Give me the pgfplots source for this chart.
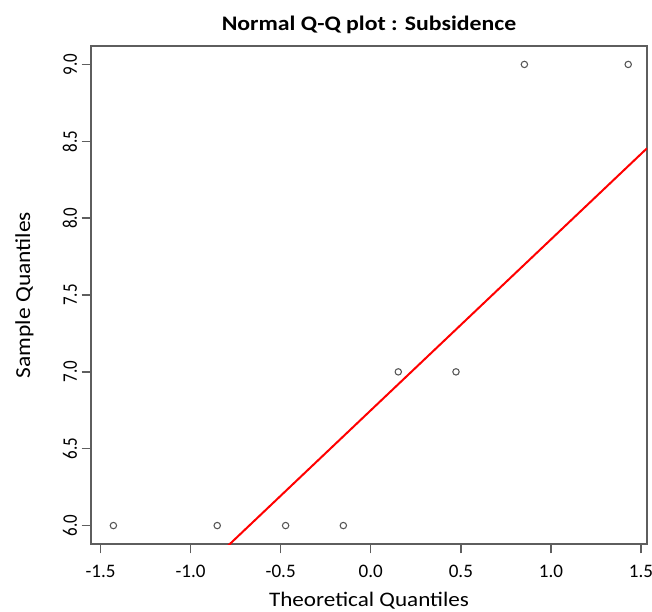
\documentclass[border=0pt]{standalone}
\usepackage{fontspec}
\setmainfont{Carlito}
% the reference text is set a little wider than plain Calibri
\newfontfamily\hfont{Carlito}[FakeStretch=1.12]
\newfontfamily\titlefont{Carlito}[FakeStretch=1.15]
\newfontfamily\vfont{Carlito}[FakeStretch=0.82]
\newfontfamily\ylabfont{Carlito}[FakeStretch=1.1]
\usepackage{pgfplots}
\pgfplotsset{compat=1.18}

% R-style normal Q-Q plot, 1px = 0.75pt
\definecolor{framegray}{HTML}{5E5E5E}
\definecolor{ptgray}{HTML}{555555}

\begin{document}
\begin{tikzpicture}
\begin{axis}[
    scale only axis,
    width=417pt,
    height=373.5pt,
    xmin=-1.553, xmax=1.533,
    ymin=5.88, ymax=9.12,
    axis line style={framegray, line width=1.2pt},
    tick style={framegray, line width=1pt},
    tick align=outside,
    major tick length=7pt,
    xtick pos=bottom,
    ytick pos=left,
    xtick={-1.5,-1,...,1.5},
    ytick={6,6.5,...,9},
    /pgf/number format/assume math mode=true,
    /pgf/number format/fixed,
    /pgf/number format/fixed zerofill,
    /pgf/number format/precision=1,
    ticklabel style={black},
    xticklabel style={font=\fontsize{14.3}{17}\selectfont, yshift=-5.5pt},
    yticklabel style={font=\vfont\fontsize{15.5}{18}\selectfont, rotate=90, anchor=south, yshift=0pt},
    title={\bfseries Normal Q-Q plot : Subsidence},
    title style={font=\titlefont\fontsize{15.5}{19}\selectfont, yshift=0pt},
    xlabel={Theoretical Quantiles},
    ylabel={Sample Quantiles},
    xlabel style={font=\hfont\fontsize{15.5}{18}\selectfont, yshift=-3.5pt},
    ylabel style={font=\ylabfont\fontsize{16}{19}\selectfont, yshift=15pt},
    clip=true,
]
\coordinate (sw) at (rel axis cs:0,0);
% sample data
\addplot[only marks, mark=o, mark size=2.4pt, mark options={ptgray, line width=0.8pt}] coordinates {
    (-1.4287, 6)
    (-0.8524, 6)
    (-0.4728, 6)
    (-0.1525, 6)
    (0.1525, 7)
    (0.4728, 7)
    (0.8524, 9)
    (1.4287, 9)
};
% Q-Q reference line through the quartiles
\addplot[red, line width=1.5pt] coordinates {
    (-1.553, 5.0231)
    (1.533, 8.4546)
};
\end{axis}
\pgfresetboundingbox
\useasboundingbox (sw) ++(-68.25pt,-50.25pt) rectangle ++(489pt,458.25pt);
\end{tikzpicture}
\end{document}
